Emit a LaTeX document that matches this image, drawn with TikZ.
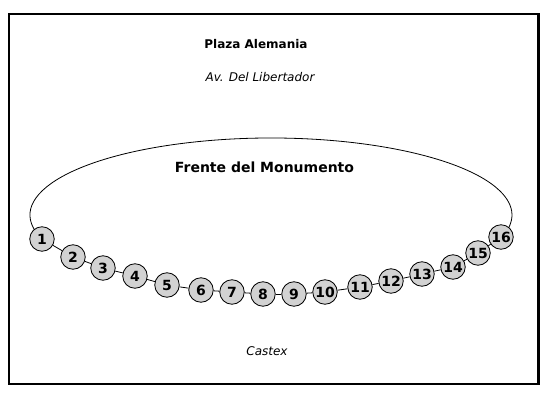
\documentclass[tikz,border=0pt]{standalone}
\usepackage{fontspec}
\setmainfont{DejaVu Sans}
\usepackage{tikz}

\definecolor{seatgray}{RGB}{210,210,210}
\tikzset{
    seat/.style={draw, circle, fill=seatgray, minimum size=24.5pt, inner sep=0pt,
        font=\fontsize{14}{14}\selectfont\bfseries},
    label/.style={font=\fontsize{12}{12}\selectfont}
}

\begin{document}
\begin{tikzpicture}[x=1pt, y=1pt, line width=0.8pt]
        \useasboundingbox (0,0) rectangle (550,400);
        % Frame
        \draw[line width=2.6pt] (9,16) rectangle (538.5,386);

        % Texts
        \node[label, font=\fontsize{12}{12}\selectfont\bfseries] (plaza) at (256,356) {Plaza Alemania};
        \node[label, font=\fontsize{12}{12}\selectfont\itshape] (avenida) at (260,323) {Av. Del Libertador};
        \node[label, font=\fontsize{14}{14}\selectfont\bfseries] (frente) at (264.5,233) {Frente del Monumento};
        \node[label, font=\fontsize{12}{12}\selectfont\itshape] (castex) at (267,49) {Castex};

        % Monument outline
        \coordinate (ctr) at (271,185);
        \draw ([shift={(198.2:241pt and 77pt)}]ctr) arc[start angle=198.2, end angle=-16.6, x radius=241pt, y radius=77pt];

        % Seats
        \node[seat] (s1) at (42,161) {1};
        \node[seat] (s2) at (73,143) {2};
        \node[seat] (s3) at (103,132) {3};
        \node[seat] (s4) at (135,124) {4};
        \node[seat] (s5) at (167,115) {5};
        \node[seat] (s6) at (201,110) {6};
        \node[seat] (s7) at (232,108) {7};
        \node[seat] (s8) at (263,106) {8};
        \node[seat] (s9) at (294,106) {9};
        \node[seat] (s10) at (325,108) {10};
        \node[seat] (s11) at (360,113) {11};
        \node[seat] (s12) at (391,119) {12};
        \node[seat] (s13) at (422,126) {13};
        \node[seat] (s14) at (453,133) {14};
        \node[seat] (s15) at (478,147) {15};
        \node[seat] (s16) at (501,163) {16};

        % Links
        \draw (s1) -- (s2);
        \draw (s2) -- (s3);
        \draw (s3) -- (s4);
        \draw (s4) -- (s5);
        \draw (s5) -- (s6);
        \draw (s6) -- (s7);
        \draw (s7) -- (s8);
        \draw (s8) -- (s9);
        \draw (s9) -- (s10);
        \draw (s10) -- (s11);
        \draw (s11) -- (s12);
        \draw (s12) -- (s13);
        \draw (s13) -- (s14);
        \draw (s14) -- (s15);
        \draw (s15) -- (s16);
    \end{tikzpicture}
\end{document}
